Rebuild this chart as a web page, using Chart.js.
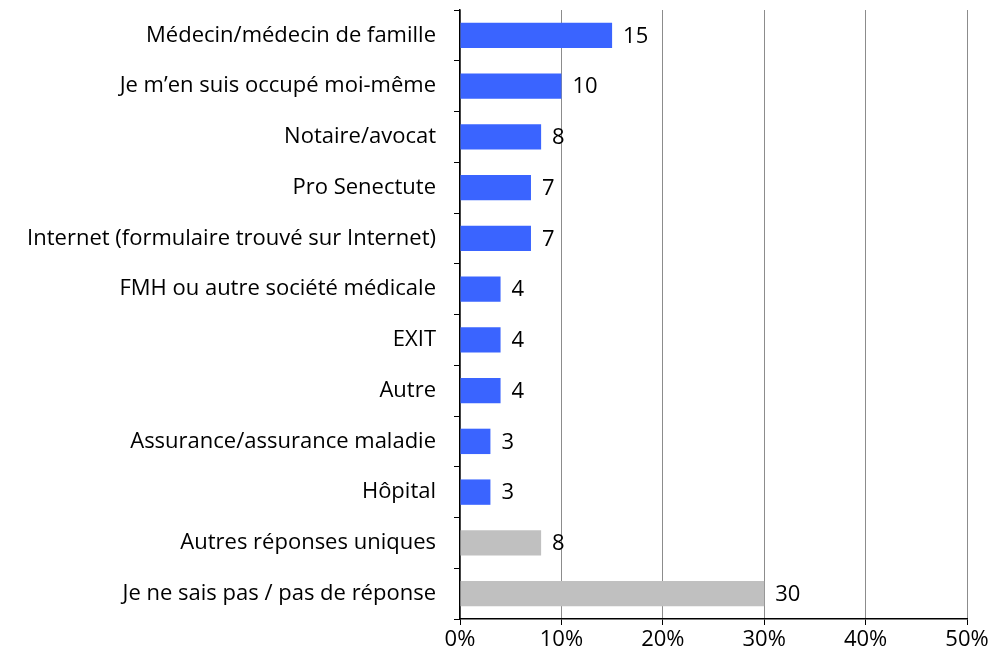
<!DOCTYPE html>
<html lang="fr">
<head>
  <meta charset="UTF-8">
  <title>Chart</title>
  <script src="https://cdn.jsdelivr.net/npm/chart.js"></script>
  <style>
    body { margin: 0; background: white; }
  </style>
</head>
<body>
  <canvas id="myChart" width="992" height="664"></canvas>

<script>
  const categorias = [
    'Médecin/médecin de famille',
    'Je m’en suis occupé moi-même',
    'Notaire/avocat',
    'Pro Senectute',
    'Internet (formulaire trouvé sur Internet)',
    'FMH ou autre société médicale',
    'EXIT',
    'Autre',
    'Assurance/assurance maladie',
    'Hôpital',
    'Autres réponses uniques',
    'Je ne sais pas / pas de réponse'
  ];
  const valores = [15, 10, 8, 7, 7, 4, 4, 4, 3, 3, 8, 30];
  // 'a' = réponse nommée, 'b' = autres / ne sait pas
  const grupos = ['a', 'a', 'a', 'a', 'a', 'a', 'a', 'a', 'a', 'a', 'b', 'b'];
  const ticks_x = [0, 10, 20, 30, 40, 50];

  const cores = { a: '#3A64FF', b: '#C0C0C0' };
  const fonte = { family: 'Open Sans', size: 22 };

  const rotulos = {
    id: 'rotulos',
    afterDatasetsDraw(chart) {
      const c = chart.ctx;
      const meta = chart.getDatasetMeta(0);
      c.save();
      c.font = `${fonte.size}px ${fonte.family}`;
      c.fillStyle = '#000';
      c.textBaseline = 'middle';
      c.textAlign = 'left';
      meta.data.forEach((bar, i) => {
        c.fillText(String(valores[i]), bar.x + 11, bar.y + 1);
      });
      c.restore();
    }
  };

  const ctx = document.getElementById('myChart');

  new Chart(ctx, {
    type: 'bar',
    data: {
      labels: categorias,
      datasets: [{
        data: valores,
        backgroundColor: grupos.map(g => cores[g]),
        borderWidth: 0,
        categoryPercentage: 1,
        barPercentage: 0.5
      }]
    },
    options: {
      indexAxis: 'y',
      responsive: false,
      animation: false,
      layout: { padding: { top: 10, right: 25, left: 0, bottom: 0 } },
      plugins: { legend: { display: false }, tooltip: { enabled: false } },
      scales: {
        x: {
          min: 0,
          max: 50,
          afterBuildTicks: s => { s.ticks = ticks_x.map(v => ({ value: v })); },
          afterFit: s => { s.height = 45; s.paddingLeft = 0; s.paddingRight = 0; },
          grid: { color: '#8c8c8c', lineWidth: 1, tickLength: 6, tickColor: '#000' },
          border: { display: true, color: '#000', width: 1.5 },
          ticks: {
            color: '#000',
            font: fonte,
            padding: 2,
            callback: v => v + '%'
          }
        },
        y: {
          afterFit: s => { s.width = 460; s.paddingTop = 0; s.paddingBottom = 0; },
          grid: { drawOnChartArea: false, offset: true, tickLength: 6, tickColor: '#000' },
          border: { display: true, color: '#000', width: 1.5 },
          ticks: { color: '#000', font: fonte, padding: 18 }
        }
      }
    },
    plugins: [rotulos]
  });
</script>
</body>
</html>
